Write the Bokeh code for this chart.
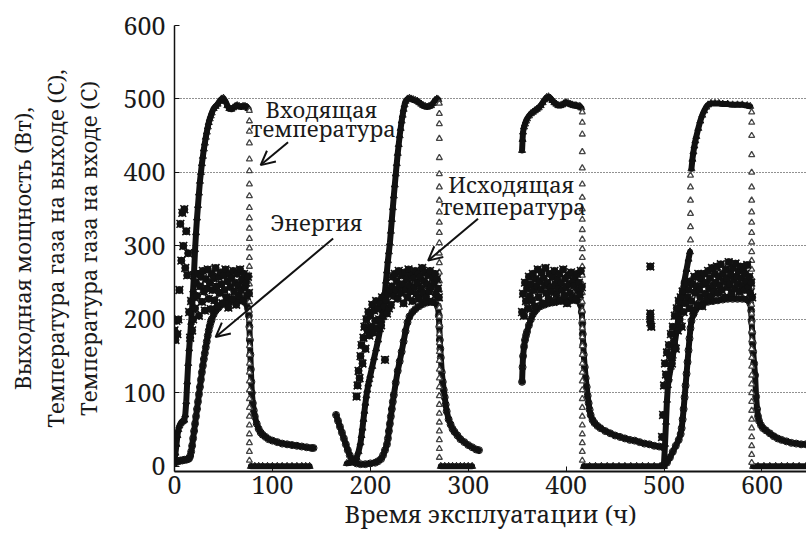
import math
from bokeh.plotting import figure
from bokeh.models import Range1d, FixedTicker, Label, Arrow, OpenHead, LinearAxis
from bokeh.embed import file_html
from bokeh.resources import INLINE

# ---------------- data (hours, values) ----------------
# Input gas temperature (triangles): continuous parts per cycle
inp1_t = [0, 1, 2, 3, 4, 5, 6, 7, 8, 9, 10, 11, 12, 13, 14, 15, 16, 17, 18, 19, 20, 21, 22, 23, 24, 25, 26, 27, 28, 29,
          30, 31, 32, 33, 34, 35, 36, 37, 38, 40, 42, 44, 46, 48, 50, 52, 54, 56, 58, 60, 62, 64, 66, 68, 70, 72, 74, 75.5]
inp1_v = [8, 18, 30, 42, 50, 55, 58, 60, 61, 62, 63, 70, 88, 115, 140, 160, 178, 196, 215, 240, 265, 295, 318, 338, 355, 372, 388, 400, 412, 422,
          432, 440, 448, 455, 462, 468, 473, 477, 481, 487, 490, 493, 497, 500, 501, 497, 491, 487, 486, 488, 490, 491, 490, 489, 490, 490, 489, 487]
inp1z_t = [78, 82, 86, 90, 95, 100, 105, 110, 115, 120, 125, 130, 134, 138]
inp1z_v = [0, 0, 0, 0, 0, 0, 0, 0, 0, 0, 0, 0, 0, 0]

inp2_t = [176, 180, 184, 186, 188, 190, 191, 192, 193, 194, 195, 196, 197, 198, 199, 200, 202, 204, 206, 208, 210, 211, 212, 213, 214,
          215, 216, 217, 218, 219, 220, 221, 222, 223, 224, 225, 226, 227, 228, 229, 230, 231, 232, 233, 234, 235, 236, 238, 240, 242,
          244, 246, 248, 250, 252, 254, 256, 258, 260, 262, 264, 266, 268, 269.5]
inp2_v = [4, 5, 8, 12, 20, 32, 42, 52, 64, 75, 86, 96, 104, 112, 118, 124, 136, 148, 160, 172, 186, 194, 202, 212, 224,
          238, 252, 266, 280, 292, 304, 320, 336, 352, 368, 383, 398, 412, 426, 438, 450, 460, 470, 478, 486, 492, 497, 500, 501, 500,
          499, 498, 497, 495, 493, 491, 490, 489, 490, 491, 494, 498, 500, 499]
inp2z_t = [272, 276, 280, 284, 288, 292, 296, 300, 304]
inp2z_v = [0, 0, 0, 0, 0, 0, 0, 0, 0]

inp3_t = [355, 355.5, 356, 357, 358, 359, 360, 362, 364, 366, 368, 370, 372, 374, 376, 378, 380, 382, 384, 386, 388, 390, 392, 394,
          396, 398, 400, 402, 404, 406, 408, 410, 412, 414, 415.5]
inp3_v = [430, 445, 455, 462, 466, 470, 473, 477, 480, 482, 484, 486, 488, 491, 495, 499, 502, 503, 501, 498, 495, 493, 491, 491,
          492, 494, 495, 494, 493, 492, 491, 491, 490, 490, 488]
inp3z_t = [418, 424, 430, 436, 442, 448, 454, 460, 466, 472, 478, 484, 490, 496, 500]
inp3z_v = [0, 0, 0, 0, 0, 0, 0, 0, 0, 0, 0, 0, 0, 0, 0]

inp4_t = [500, 501, 502, 503, 504, 505, 507, 509, 511, 513, 515, 517, 519, 521, 523, 525, 526.5]
inp4_v = [5, 30, 60, 90, 110, 120, 135, 150, 168, 186, 205, 222, 238, 254, 268, 282, 292]
inp4b_t = [528, 529, 530, 531, 532, 533, 535, 537, 539, 541, 543, 545, 548, 552, 556, 560, 565, 570, 575, 580, 585, 588]
inp4b_v = [405, 418, 428, 436, 443, 449, 460, 470, 478, 484, 489, 492, 494, 494, 494, 493, 493, 492, 492, 492, 491, 490]
inp4z_t = [591, 596, 602, 608, 614, 620, 626, 632, 638, 645]
inp4z_v = [0, 0, 0, 0, 0, 0, 0, 0, 0, 0]

# sparse triangle columns (fast changes of the input temperature)
drop_t = [76.5, 270.5, 416.5, 589.5, 527]
drop_v = [
    [484, 470, 456, 440, 418, 402, 384, 368, 352, 338, 324, 310, 297, 284, 272, 260, 248, 236, 224, 212, 200, 188, 176, 164,
     152, 140, 128, 116, 104, 92, 80, 68, 56, 44, 32, 20, 8],
    [494, 480, 466, 446, 420, 398, 380, 362, 346, 332, 318, 304, 290, 277, 264, 252, 240, 228, 216, 204, 192, 180, 168, 156,
     144, 132, 120, 108, 96, 84, 72, 60, 48, 36, 24, 12],
    [482, 468, 452, 428, 406, 384, 366, 350, 336, 322, 309, 296, 284, 272, 260, 248, 236, 224, 212, 200, 188, 176, 164, 152,
     140, 128, 116, 104, 92, 80, 68, 56, 44, 32, 20, 8],
    [482, 468, 450, 424, 400, 380, 362, 346, 332, 318, 305, 292, 280, 268, 256, 244, 232, 220, 208, 196, 184, 172, 160, 148,
     136, 124, 112, 100, 88, 76, 64, 52, 40, 28, 16, 5],
    [308, 326, 344, 362, 380, 396],
]

# Output gas temperature (circles)
out1_t = [0, 2, 4, 6, 8, 10, 12, 14, 15, 16, 17, 18, 19, 20, 21, 22, 23, 24, 25, 26, 27, 28, 29, 30, 31, 32, 33, 34, 35, 36, 37, 38,
          40, 42, 44, 46, 50, 54, 58, 62, 66, 70, 73, 75, 76, 76.5, 77, 77.5, 78, 78.5, 79, 80, 81, 82, 84, 86, 88, 90, 93, 96,
          100, 105, 110, 115, 120, 125, 130, 135, 140, 142]
out1_v = [5, 6, 7, 8, 8, 9, 9, 10, 11, 14, 20, 28, 38, 48, 58, 68, 78, 88, 98, 108, 118, 128, 137, 146, 154, 162, 170, 178, 185, 191, 196, 200,
          207, 212, 215, 218, 221, 223, 225, 226, 226, 225, 222, 215, 205, 190, 172, 152, 132, 115, 100, 86, 76, 68, 58, 51, 46, 43, 40, 37,
          35, 33, 31, 30, 29, 28, 27, 26, 25, 25]

out2_t = [165, 167, 169, 171, 173, 175, 177, 179, 181, 183, 186, 190, 195, 200, 205, 208, 211, 213, 215, 217, 218, 219, 220, 221, 222,
          223, 224, 226, 228, 230, 232, 234, 236, 238, 240, 243, 246, 250, 254, 258, 262, 266, 269, 270, 270.5, 271, 271.5, 272, 273,
          274, 275, 276, 277, 278, 280, 282, 284, 286, 289, 292, 296, 300, 304, 308, 311]
out2_v = [70, 62, 54, 46, 38, 30, 22, 15, 10, 6, 4, 3, 3, 4, 5, 7, 10, 15, 22, 30, 38, 48, 58, 68, 78,
          88, 97, 114, 130, 143, 156, 170, 184, 196, 204, 210, 214, 218, 221, 223, 224, 223, 218, 205, 190, 172, 160, 148, 128,
          115, 104, 94, 84, 75, 64, 57, 51, 47, 42, 37, 33, 29, 26, 23, 22]

out3_t = [355, 355.5, 356, 357, 358, 359, 360, 362, 364, 366, 368, 370, 374, 378, 382, 386, 390, 395, 400, 405, 410, 413, 415, 416,
          416.5, 417, 417.5, 418, 419, 420, 421, 422, 423, 424, 425, 427, 429, 432, 435, 440, 445, 450, 455, 460, 465, 470, 475,
          480, 485, 490, 495, 499]
out3_v = [115, 135, 150, 163, 172, 178, 183, 192, 200, 207, 211, 214, 218, 220, 222, 223, 224, 225, 226, 226, 226, 225, 220, 210,
          195, 180, 165, 152, 135, 120, 108, 96, 86, 77, 70, 63, 59, 55, 52, 48, 45, 42, 40, 38, 36, 35, 33,
          31, 30, 28, 27, 26]

out4_t = [500, 503, 506, 509, 512, 515, 517, 518, 519, 520, 521, 522, 523, 524, 525, 526, 527, 528, 530, 532, 535, 540, 545, 550,
          555, 560, 565, 570, 575, 580, 585, 588, 589, 589.5, 590, 590.5, 591, 592, 593, 594, 595, 596, 597, 599, 601, 604, 608,
          612, 616, 620, 625, 630, 635, 640, 645]
out4_v = [2, 5, 12, 20, 28, 36, 44, 52, 64, 78, 94, 110, 126, 142, 158, 174, 188, 198, 207, 213, 218, 222, 224, 225,
          226, 227, 228, 228, 228, 228, 227, 222, 212, 198, 182, 168, 156, 140, 124, 95, 78, 68, 62, 56, 52, 49, 45,
          41, 38, 36, 34, 32, 31, 30, 30]

# Output power (crosses), hourly readings per run: first hour + values
energy1_start = 0
energy1 = [185, 172, 198, 180,
           200, 240, 330, 280, 345, 300, 350, 270, 320, 260, 290,
           210, 175, 225, 185, 200, 230,
           215, 250, 232, 262, 205, 245, 258, 224, 266, 238, 212, 255, 242, 268, 228, 250, 214, 262, 240, 256, 226, 270,
           245, 218, 258, 236, 264, 248, 222, 260, 240, 268, 230, 252, 216, 262, 244, 256, 228, 266, 238, 250, 220, 262,
           246, 232, 268, 240, 254, 226, 262, 244, 250, 232, 258, 236]
energy2_start = 186
energy2 = [95, 110, 130, 120, 150, 165, 140, 175, 190, 160, 200, 185, 210, 178,
           205, 190, 220, 182, 212, 198, 225, 188, 215, 200, 222, 192, 230, 205, 218, 145, 226, 208, 235, 215, 240, 220,
           245, 258, 232, 262, 240, 252, 228, 266, 245, 236, 260, 248, 222, 264, 240, 255, 230, 268, 246, 238, 260, 225,
           256, 244, 266, 235, 250, 262, 228, 258, 242, 270, 236, 252, 264, 230, 248, 260, 238, 266, 244, 224, 258, 250,
           262, 234, 255, 242, 230]
energy3_start = 355
energy3 = [210, 235, 205, 250, 225, 242, 215, 258, 232, 248, 226, 262, 240, 218, 255, 245, 268, 230, 252, 240, 264, 222,
           256, 246, 270, 236, 250, 228, 262, 244, 238, 258, 224, 266, 248, 234, 254, 242, 262, 226, 250, 240, 268, 232,
           256, 244, 222, 260, 248, 236, 264, 230, 252, 246, 258, 228, 262, 240, 250, 234, 266, 244]
energy4_start = 498
energy4 = [40, 70, 110, 140, 125, 155, 120, 165, 150, 180, 140, 190, 170, 205, 160, 215, 185, 225, 200, 230, 190, 238,
           210, 245, 222, 250, 230, 240, 215, 252,
           225, 248, 212, 258, 236, 245, 220, 262, 240, 230, 255, 218, 248, 262, 235, 250, 228, 266, 242, 256, 232, 270,
           246, 238, 262, 250, 272, 236, 258, 246, 275, 240, 262, 252, 230, 268, 256, 244, 278, 248, 262, 236, 270, 254,
           242, 276, 258, 248, 266, 238, 272, 256, 246, 268, 240, 262, 252, 274, 244, 258, 236, 250, 230]
energy_extra_t = [486, 486, 486, 486, 487]
energy_extra_v = [272, 208, 202, 196, 190]

x_ticks = [0, 100, 200, 300, 400, 500, 600]
y_ticks = [0, 100, 200, 300, 400, 500, 600]

# annotation anchors (data units)
ann_texts = ["Входящая", "температура", "Энергия", "Исходящая", "температура"]
ann_x = [150, 152, 145, 344, 346]
ann_y = [487, 460, 333, 384, 354]
arrows = [(116, 441, 88, 410), (162, 310, 42, 176), (310, 337, 259, 280)]

# axis titles: y title lines from the axis outwards
y_title_lines = ["Температура газа на входе (С)", "Температура газа на выходе (С),", "Выходная мощность (Вт),"]
x_title = "Время эксплуатации (ч)"

# ---------------- plot ----------------
FONT = "Noto Serif"
INK = "#111111"
TXT = "#1a1a1a"

p = figure(width=806, height=543, output_backend="svg", toolbar_location=None,
           x_range=Range1d(0, 645.5), y_range=Range1d(-7, 600),
           min_border_left=174, min_border_right=0, min_border_top=25, min_border_bottom=72)
p.outline_line_color = None
p.background_fill_color = "white"
p.border_fill_color = "white"

p.xgrid.visible = False
p.ygrid.ticker = FixedTicker(ticks=[100, 200, 300, 400, 500, 600])
p.ygrid.grid_line_color = "#222222"
p.ygrid.grid_line_dash = "1 2"
p.ygrid.grid_line_width = 1

for ax in (p.xaxis, p.yaxis):
    ax.major_label_text_font = FONT
    ax.major_label_text_font_size = "25px"
    ax.major_label_text_color = TXT
    ax.axis_label_text_font = FONT
    ax.axis_label_text_font_style = "normal"
    ax.axis_label_text_color = TXT
    ax.minor_tick_line_color = None
    ax.major_tick_in = 5
    ax.major_tick_out = 0
    ax.axis_line_color = INK
    ax.major_tick_line_color = INK

p.xaxis.ticker = FixedTicker(ticks=x_ticks)
p.yaxis.ticker = FixedTicker(ticks=y_ticks)
p.xaxis.axis_line_width = 2
p.yaxis.axis_line_width = 1.5
p.xaxis.major_label_standoff = 4
p.yaxis.major_label_standoff = 9
p.xaxis.axis_label = x_title
p.xaxis.axis_label_text_font_size = "24px"
p.xaxis.axis_label_standoff = 0
p.yaxis.axis_label = y_title_lines[0]
p.yaxis.axis_label_text_font_size = "22px"
p.yaxis.axis_label_standoff = 18

# outer title lines as tick-less axes stacked to the left
for line in y_title_lines[1:]:
    extra = LinearAxis(ticker=FixedTicker(ticks=[]), axis_label=line,
                       axis_label_text_font=FONT, axis_label_text_font_size="22px",
                       axis_label_text_font_style="normal", axis_label_text_color=TXT,
                       axis_label_standoff=0, axis_line_color=None, major_tick_line_color=None,
                       minor_tick_line_color=None, major_tick_out=0, major_tick_in=0,
                       minor_tick_out=0, major_label_standoff=0)
    p.add_layout(extra, "left")


def joined(segs):
    xs, ys = [], []
    for t, v in segs:
        if xs:
            xs.append(math.nan)
            ys.append(math.nan)
        xs.extend(t)
        ys.extend(v)
    return xs, ys


inp_segs = [(inp1_t, inp1_v), (inp1z_t, inp1z_v), (inp2_t, inp2_v), (inp2z_t, inp2z_v),
            (inp3_t, inp3_v), (inp3z_t, inp3z_v), (inp4_t, inp4_v), (inp4b_t, inp4b_v), (inp4z_t, inp4z_v)]
out_segs = [(out1_t, out1_v), (out2_t, out2_v), (out3_t, out3_v), (out4_t, out4_v)]

ix, iy = joined(inp_segs)
ox, oy = joined(out_segs)

# thick chains of dense markers
p.line(ix, iy, line_color=INK, line_width=6, line_join="round", line_cap="round")
p.line(ox, oy, line_color=INK, line_width=6, line_join="round", line_cap="round")
p.scatter(ix, iy, marker="triangle", size=7, line_color=INK, fill_color=None, line_width=1)
p.scatter(ox, oy, marker="circle", size=7, line_color=INK, fill_color=None, line_width=1)

# sparse triangle columns
dx, dy = [], []
for t, vals in zip(drop_t, drop_v):
    dx.extend([t] * len(vals))
    dy.extend(vals)
p.scatter(dx, dy, marker="triangle", size=6, line_color="#444444", fill_color="white", line_width=1.3)

# energy crosses
ex, ey = [], []
for start, vals in ((energy1_start, energy1), (energy2_start, energy2),
                    (energy3_start, energy3), (energy4_start, energy4)):
    ex.extend([start + i for i in range(len(vals))])
    ey.extend(vals)
ex.extend(energy_extra_t)
ey.extend(energy_extra_v)
p.scatter(ex, ey, marker="x", size=11, line_color=INK, line_width=1.6)
p.scatter(ex, ey, marker="circle", size=7, line_color=INK, fill_color=INK, line_width=1)

for txt, x, y in zip(ann_texts, ann_x, ann_y):
    p.add_layout(Label(x=x, y=y, text=txt, text_align="center", text_baseline="middle",
                       text_font=FONT, text_font_size="22px", text_color=TXT))

for xs, ys, xe, ye in arrows:
    p.add_layout(Arrow(x_start=xs, y_start=ys, x_end=xe, y_end=ye, line_color=INK, line_width=2,
                       end=OpenHead(size=14, line_width=2, line_color=INK)))

open("out.html", "w").write(file_html(p, INLINE))
